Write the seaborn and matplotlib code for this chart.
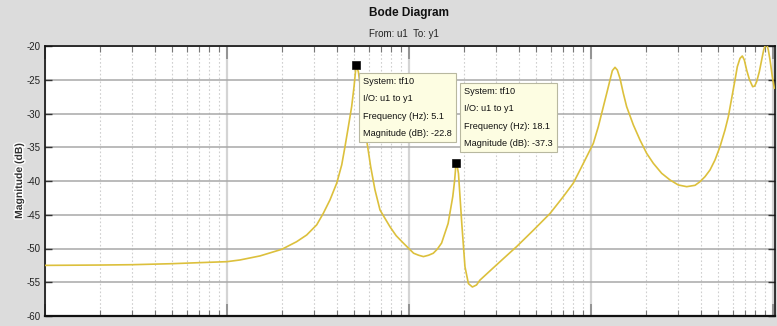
import matplotlib
matplotlib.use("Agg")
import matplotlib.pyplot as plt
import matplotlib.patheffects as pe
import seaborn as sns
import numpy as np
import pandas as pd
from matplotlib.ticker import LogLocator, NullFormatter

# ---- data ----
freq_hz = [0.1, 0.2, 0.3, 0.5, 0.7, 1.0, 1.178, 1.518, 2.0, 2.41, 2.74, 3.11, 3.38, 3.68,
           4.01, 4.27, 4.45, 4.64, 4.84, 4.99, 5.09, 5.1, 5.27, 5.43, 5.61, 5.85, 6.16,
           6.5, 6.93, 7.87, 8.5, 9.31, 10.6, 11.3, 12.0, 12.8, 13.6, 14.3, 15.1, 16.4,
           17.4, 17.8, 18.0, 18.1, 18.4, 18.7, 19.5, 20.3, 21.2, 22.3, 23.5, 24.5, 27.9,
           33.0, 39.1, 48.2, 59.6, 70.5, 80.0, 87.0, 94.7, 103.0, 109.7, 116.9, 122.0,
           127.2, 131.0, 135.5, 139.5, 144.3, 150.5, 157.0, 170.9, 185.9, 202.2, 220.0,
           244.5, 271.8, 302.0, 335.6, 372.8, 397.2, 423.0, 450.6, 480.0, 511.5, 544.9,
           568.3, 592.8, 618.3, 636.8, 658.7, 678.3, 695.7, 716.5, 741.3, 773.2, 793.1,
           813.4, 841.2, 866.4, 888.6, 907.6, 923.1, 942.8, 962.9, 991.5, 1017.0]
mag_db = [-52.5, -52.45, -52.4, -52.25, -52.1, -51.95, -51.7, -51.1, -50.12, -49.0, -48.0,
          -46.5, -44.8, -42.8, -40.3, -37.6, -34.9, -32.0, -29.0, -26.0, -23.6, -22.8,
          -23.8, -26.5, -30.0, -33.9, -37.9, -41.3, -44.3, -46.8, -48.1, -49.2, -50.7,
          -51.0, -51.2, -51.0, -50.7, -50.1, -49.2, -46.3, -42.3, -40.0, -38.4, -37.3,
          -37.8, -38.9, -46.3, -52.7, -55.2, -55.7, -55.4, -54.7, -53.3, -51.5, -49.7,
          -47.3, -44.8, -42.3, -40.3, -38.37, -36.4, -34.42, -31.95, -28.99, -27.01,
          -25.04, -23.65, -23.16, -23.56, -24.79, -27.01, -28.99, -31.7, -33.93, -35.9,
          -37.38, -38.86, -39.85, -40.59, -40.84, -40.64, -40.1, -39.36, -38.37, -36.89,
          -34.91, -32.44, -30.47, -27.75, -25.04, -23.06, -21.83, -21.48, -22.07, -23.56,
          -24.94, -26.03, -25.93, -25.28, -23.8, -22.07, -20.59, -19.85, -19.7, -20.59,
          -22.07, -24.54, -26.27]

tip_freqs = [5.1, 18.1]
tip_mags = [-22.8, -37.3]
tip_texts = [
    ["System: tf10", "I/O: u1 to y1", "Frequency (Hz): 5.1", "Magnitude (dB): -22.8"],
    ["System: tf10", "I/O: u1 to y1", "Frequency (Hz): 18.1", "Magnitude (dB): -37.3"],
]
y_ticks = [-60, -55, -50, -45, -40, -35, -30, -25, -20]

title_text = "Bode Diagram"
subtitle_text = "From: u1  To: y1"
ylabel_text = "Magnitude (dB)"

# ---- style ----
sns.set_style("white")
plt.rcParams['font.family'] = ['Liberation Sans Narrow', 'Liberation Sans', 'DejaVu Sans']
plt.rcParams['axes.unicode_minus'] = False

W, H = 777, 326
fig = plt.figure(figsize=(W / 100, H / 100), dpi=100, facecolor="#dcdcdc")
ax = fig.add_axes([45 / W, 1 - 316 / H, (775 - 45) / W, (316 - 46) / H])
ax.set_facecolor("white")

df = pd.DataFrame({"freq": freq_hz, "mag": mag_db})
sns.lineplot(data=df, x="freq", y="mag", ax=ax, color="#dcc03c", linewidth=1.2,
             sort=False, estimator=None, zorder=3)

ax.set_xscale("log")
ax.set_xlim(0.1, 10 ** ((775 - 45) / 182 - 1))
ax.set_ylim(-60, -20)

# grid
ax.set_yticks(y_ticks)
ax.set_yticklabels([str(v) for v in y_ticks])
ax.xaxis.set_major_locator(LogLocator(base=10, numticks=20))
ax.xaxis.set_minor_locator(LogLocator(base=10, subs=np.arange(2, 10), numticks=20))
ax.xaxis.set_major_formatter(NullFormatter())
ax.xaxis.set_minor_formatter(NullFormatter())
ax.grid(True, which="major", axis="y", color="#a8a8a8", linewidth=1.1, linestyle="-")
ax.grid(True, which="major", axis="x", color="#d4d4d4", linewidth=1.6, linestyle="-")
ax.grid(True, which="minor", axis="x", color="#cfcfcf", linewidth=0.8, linestyle=(0, (1.5, 2)))
ax.set_axisbelow(True)

ax.tick_params(axis="both", which="both", direction="in", top=True, right=True,
               bottom=True, left=True, color="#333333")
ax.tick_params(axis="x", which="major", length=9, width=1.2, color="#888888")
ax.tick_params(axis="x", which="minor", length=4, width=0.8, color="#777777")
ax.tick_params(axis="y", which="major", length=5, width=1.0, labelsize=7,
               labelcolor="#222222", pad=3)

for side in ["top", "bottom", "left", "right"]:
    ax.spines[side].set_color("#111111")
    ax.spines[side].set_linewidth(1.2)
ax.spines["bottom"].set_linewidth(1.6)

ax.set_xlabel("")
ax.set_ylabel("")
fig.text(19 / W, 1 - 181 / H, ylabel_text, rotation=90, ha="center", va="center",
         fontsize=7.5, fontweight="bold", color="#333333",
         family=['Liberation Sans', 'DejaVu Sans'],
         path_effects=[pe.withStroke(linewidth=2.0, foreground="white")])

fig.text(409 / W, 1 - 13 / H, title_text, ha="center", va="center", fontsize=8.5,
         fontweight="bold", color="#111111")
fig.text(404 / W, 1 - 34 / H, subtitle_text, ha="center", va="center", fontsize=7,
         color="#222222")

# data tips
sns.scatterplot(x=tip_freqs, y=tip_mags, ax=ax, marker="s", s=30, color="black",
                edgecolor="black", zorder=5, legend=False)
box_px = [(363, 77), (464, 87)]  # top-left pixel of each datatip text
for (bx, by), lines in zip(box_px, tip_texts):
    txt = "\n".join(lines)
    fig.text(bx / W, 1 - by / H, txt, ha="left", va="top", fontsize=6.6,
             color="#111111", linespacing=2.2, zorder=10,
             bbox=dict(boxstyle="square,pad=0.45", facecolor="#fdfde2",
                       edgecolor="#b8b8a0", linewidth=0.8))

fig.savefig("out.png", dpi=100, facecolor=fig.get_facecolor())
